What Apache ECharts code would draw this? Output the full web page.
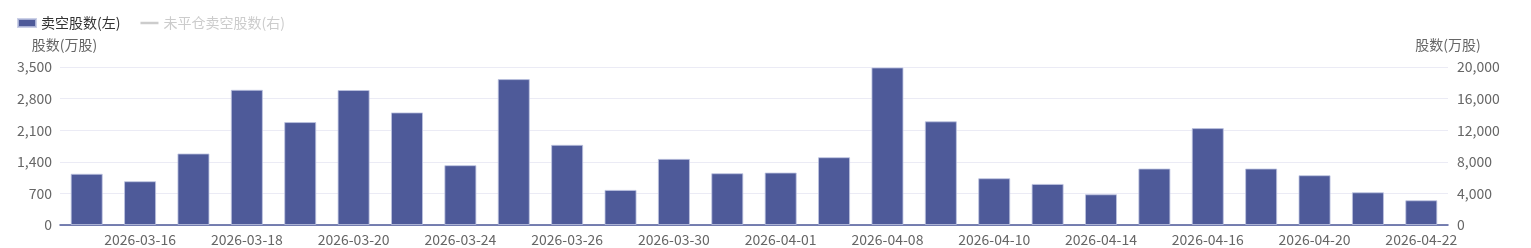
<!DOCTYPE html>
<html><head><meta charset="utf-8">
<script src="https://cdn.jsdelivr.net/npm/echarts@6/dist/echarts.min.js"></script>
<style>html,body{margin:0;padding:0;background:#fff}#c{width:1531px;height:248px}</style>
</head><body><div id="c"></div>
<script>
const categories = ['2026-03-13','2026-03-16','2026-03-17','2026-03-18','2026-03-19','2026-03-20','2026-03-23','2026-03-24','2026-03-25','2026-03-26','2026-03-27','2026-03-30','2026-03-31','2026-04-01','2026-04-02','2026-04-08','2026-04-09','2026-04-10','2026-04-13','2026-04-14','2026-04-15','2026-04-16','2026-04-17','2026-04-20','2026-04-21','2026-04-22'];
const shortShares = [1135,970,1584,2995,2280,2990,2494,1325,3232,1776,778,1465,1147,1162,1502,3490,2297,1036,910,681,1251,2146,1251,1103,725,548];
const openShortShares = [];
const leftTicks = {min:0, max:3500, interval:700};
const rightTicks = {min:0, max:20000, interval:4000};

const chart = echarts.init(document.getElementById('c'));
const fontFamily = '"Microsoft YaHei","Noto Sans CJK SC",sans-serif';
const oddOnly = (i) => i % 2 === 1;
chart.setOption({
  animation:false,
  textStyle:{fontFamily},
  legend:{left:12,top:11,itemWidth:18,itemHeight:8,itemGap:20,
    textStyle:{color:'#333',fontSize:14},
    inactiveColor:'#ccc',
    data:[{name:'卖空股数(左)',icon:'rect'},
          {name:'未平仓卖空股数(右)',icon:'path://M0,0h18v2.5h-18z'}],
    selected:{'未平仓卖空股数(右)':false}},
  grid:{left:60,right:83,top:67,bottom:23,containLabel:false},
  xAxis:{type:'category',data:categories,boundaryGap:true,
    axisLine:{lineStyle:{color:'#4c5898',width:1.5}},
    axisTick:{alignWithLabel:true,interval:oddOnly,lineStyle:{color:'#4c5898'}},
    axisLabel:{interval:oddOnly,color:'#666',fontSize:14,margin:8}},
  yAxis:[
    {type:'value',name:'股数(万股)',nameTextStyle:{color:'#666',fontSize:14,padding:[0,0,0,9]},nameGap:15,
     min:leftTicks.min,max:leftTicks.max,interval:leftTicks.interval,
     axisLabel:{color:'#666',fontSize:14,margin:8},
     splitLine:{lineStyle:{color:'#ebebf5'}},axisLine:{show:false},axisTick:{show:false}},
    {type:'value',name:'股数(万股)',nameTextStyle:{color:'#666',fontSize:14},nameGap:15,
     min:rightTicks.min,max:rightTicks.max,interval:rightTicks.interval,
     axisLabel:{color:'#666',fontSize:14,margin:9},
     splitLine:{show:false},axisLine:{show:false},axisTick:{show:false}}
  ],
  series:[
    {name:'卖空股数(左)',type:'bar',yAxisIndex:0,data:shortShares,barWidth:'60%',
     itemStyle:{color:'#4e5a99',borderColor:'rgba(190,196,225,0.8)',borderWidth:1}},
    {name:'未平仓卖空股数(右)',type:'line',yAxisIndex:1,data:openShortShares,
     symbolKeepAspect:true,
     itemStyle:{color:'#ccc'},lineStyle:{color:'#ccc'},symbol:'none'}
  ]
});
</script></body></html>
